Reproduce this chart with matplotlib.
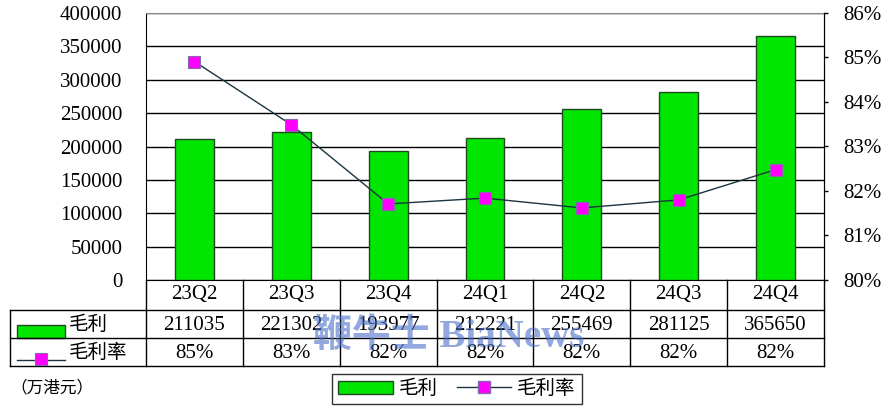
import matplotlib
matplotlib.use('Agg')
import matplotlib.pyplot as plt
from matplotlib.lines import Line2D
from matplotlib.patches import Patch, Rectangle
from matplotlib.transforms import blended_transform_factory

plt.rcParams['font.family'] = ['Liberation Serif', 'Noto Sans CJK SC', 'DejaVu Sans']

quarters = ['23Q2', '23Q3', '23Q4', '24Q1', '24Q2', '24Q3', '24Q4']
gross_profit = [211035, 221302, 193977, 212221, 255469, 281125, 365650]
gross_margin = [84.91, 83.49, 81.71, 81.84, 81.62, 81.80, 82.48]
margin_labels = ['85%', '83%', '82%', '82%', '82%', '82%', '82%']

W, H = 896, 420
fig = plt.figure(figsize=(W / 100, H / 100), dpi=100)


def fx(px):
    return px / W


def fy(py):
    return 1 - py / H


L, R, T, B = 146, 824, 13, 280
ax = fig.add_axes([fx(L), fy(B), fx(R) - fx(L), fy(T) - fy(B)])
ax2 = ax.twinx()

x = list(range(len(quarters)))
ax.bar(x, gross_profit, width=0.4, color='#00e600', edgecolor='#1f4a1f', linewidth=1, zorder=3)
ax.set_xlim(-0.5, len(quarters) - 0.5)
ax.set_ylim(0, 400000)
ax.set_yticks(range(0, 400001, 50000))
ax.yaxis.grid(True, color='black', linewidth=1, zorder=0)
ax.set_axisbelow(True)
ax.set_xticks([])
ax.tick_params(axis='y', length=0, pad=17, labelsize=15)
ax.spines['top'].set_color('#888888')
for s in ['left', 'bottom']:
    ax.spines[s].set_color('black')

ax2.plot(x, gross_margin, color='#1a3440', linewidth=1, marker='s', markersize=9,
         markerfacecolor='#ff00ff', markeredgecolor='#8866aa', markeredgewidth=0.8, zorder=4)
ax2.set_ylim(80, 86)
ax2.set_yticks(range(80, 87))
ax2.set_yticklabels([f'{v}%' for v in range(80, 87)])
ax2.tick_params(axis='y', length=3, width=1, pad=11, labelsize=15, color='black')
ax2.spines['right'].set_color('black')
ax2.spines['top'].set_visible(False)
ax2.spines['left'].set_visible(False)
ax2.spines['bottom'].set_visible(False)

# data table under the chart
tr = blended_transform_factory(ax.transData, fig.transFigure)
col_w = (R - L) / len(quarters)
lk = dict(color='black', linewidth=1)
for k in range(len(quarters) + 1):
    xp = L + k * col_w
    fig.add_artist(Line2D([fx(xp), fx(xp)], [fy(B), fy(366)], **lk))
fig.add_artist(Line2D([fx(10), fx(10)], [fy(310), fy(366)], **lk))
for yp in [310, 338, 366]:
    fig.add_artist(Line2D([fx(10), fx(R)], [fy(yp), fy(yp)], **lk))

for i, q in enumerate(quarters):
    fig.text(i, fy(295), q, transform=tr, ha='center', va='center', fontsize=15)
    fig.text(i, fy(325), str(gross_profit[i]), transform=tr, ha='center', va='center', fontsize=15)
    fig.text(i, fy(353), margin_labels[i], transform=tr, ha='center', va='center', fontsize=15)

fig.add_artist(Rectangle((fx(17), fy(338)), fx(65) - fx(17), fy(325) - fy(338),
                         facecolor='#00e600', edgecolor='#1f4a1f', linewidth=1))
fig.text(fx(69), fy(325), '毛利', ha='left', va='center', fontsize=14)
fig.add_artist(Line2D([fx(17), fx(65)], [fy(360), fy(360)], color='#1a3440', linewidth=1))
fig.add_artist(Line2D([fx(41)], [fy(359)], marker='s', markersize=9, markerfacecolor='#ff00ff',
                      markeredgecolor='#8866aa', markeredgewidth=0.8, linestyle='none'))
fig.text(fx(69), fy(353), '毛利率', ha='left', va='center', fontsize=14)

fig.text(fx(10), fy(388), '（万港元）', ha='left', va='center', fontsize=12)

handles = [Patch(facecolor='#00e600', edgecolor='#1f4a1f', label='毛利'),
           Line2D([], [], color='#1a3440', linewidth=1, marker='s', markersize=9,
                  markerfacecolor='#ff00ff', markeredgecolor='#8866aa', label='毛利率')]
leg = fig.legend(handles=handles, loc='center', bbox_to_anchor=(fx(457), fy(389)), ncol=2,
                 fontsize=14, frameon=True, fancybox=False, edgecolor='black',
                 borderpad=0.3, borderaxespad=0, handlelength=2.8, handletextpad=0.3,
                 columnspacing=1.0)
leg.get_frame().set_linewidth(1)

fig.text(fx(449), fy(338), '鞭牛士 BiaNews', ha='center', va='center', fontsize=28,
         fontweight='bold', color='#4a6fc8', alpha=0.6)

fig.savefig('out.png', dpi=100)
